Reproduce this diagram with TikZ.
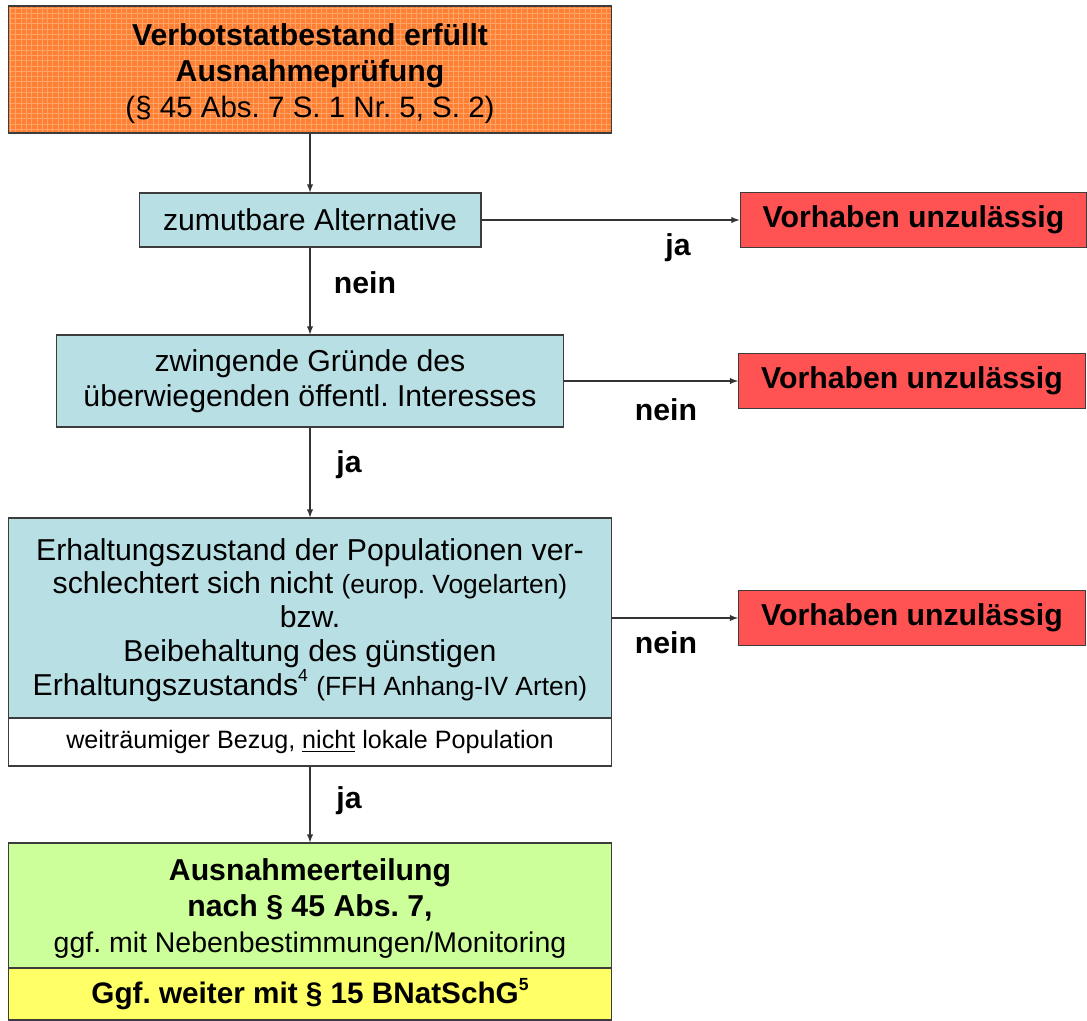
\documentclass[tikz,border=0pt]{standalone}
\usepackage{fontspec}
\setmainfont{Liberation Sans}
\frenchspacing
\usetikzlibrary{arrows,patterns,positioning}
\definecolor{verbotorange}{HTML}{FF7F33}
\definecolor{gridorange}{HTML}{FFA468}
\definecolor{pruefcyan}{HTML}{B8DFE3}
\definecolor{stoprot}{HTML}{FF5353}
\definecolor{okgruen}{HTML}{CCFF99}
\definecolor{weitergelb}{HTML}{FFFF66}
\definecolor{rahmen}{HTML}{3C3C3C}
\newcommand\fntA{\fontsize{17.2}{20.4}\selectfont}
\newcommand\fntB{\fontsize{17.2}{19.2}\selectfont}
\newcommand\fntC{\fontsize{15}{19.2}\selectfont}
\newcommand\hochz[1]{\raisebox{0.45em}{\fontsize{10}{10}\selectfont #1}}

\begin{document}
\begin{tikzpicture}[x=0.02cm, y=-0.02cm,
  box/.style={draw=rahmen, line width=0.6pt, align=center, inner sep=0pt},
  pruef/.style={box, fill=pruefcyan},
  stop/.style={box, fill=stoprot, minimum width=6.94cm, minimum height=1.1cm, font=\fntA\bfseries},
  arr/.style={-latex, draw=black!80, line width=0.6pt},
  antw/.style={font=\fntA\bfseries, inner sep=0pt}]
\useasboundingbox (0,0) rectangle (1087,1020);
% linke Spalte
\node[box, preaction={fill=verbotorange}, pattern=grid, pattern color=gridorange,
      minimum width=12.08cm, minimum height=2.54cm, font=\fntA] (verbot) at (310,69.5)
  {\rule{0pt}{17pt}\textbf{Verbotstatbestand erfüllt}\\\textbf{Ausnahmeprüfung}\\{\fontsize{16.8}{20.4}\selectfont(§ 45 Abs. 7 S. 1 Nr. 5, S. 2)}};
\node[pruef, minimum width=6.84cm, minimum height=1.08cm, font=\fntA] (alt) at (310,220) {zumutbare Alternative};
\node[pruef, minimum width=10.16cm, minimum height=1.84cm, font=\fontsize{17.2}{19.8}\selectfont] (zwing) at (310,381)
  {zwingende Gründe des\\überwiegenden öffentl. Interesses};
\node[pruef, minimum width=12.08cm, minimum height=4cm, font=\fntB] (erhalt) at (310,618)
  {\rule{0pt}{14.5pt}Erhaltungszustand der Populationen ver-\\
   schlechtert sich nicht {\fntC(europ. Vogelarten)}\\
   bzw.\\
   Beibehaltung des günstigen\\
   Erhaltungszustands\hochz{4} {\fntC(FFH Anhang-IV Arten)}};
\node[box, fill=white, minimum width=12.08cm, minimum height=0.96cm, font=\fontsize{14.3}{16}\selectfont] (bezug) at (310,742)
  {weiträumiger Bezug, \underline{nicht} lokale Population};
\node[box, fill=okgruen, minimum width=12.08cm, minimum height=2.5cm, font=\fntA] (erteil) at (310,905.5)
  {\rule{0pt}{16pt}\textbf{Ausnahmeerteilung}\\\textbf{nach § 45 Abs. 7,}\\{\fontsize{16.2}{20.4}\selectfont ggf. mit Nebenbestimmungen/Monitoring}};
\node[box, fill=weitergelb, minimum width=12.08cm, minimum height=1.04cm, font=\fontsize{16.9}{19}\selectfont\bfseries] (weiter) at (310,994)
  {Ggf. weiter mit § 15 BNatSchG\hochz{5}};
% rechte Spalte
\node[stop] (unzul1) at (913.5,220) {Vorhaben unzulässig};
\node[stop] (unzul2) at (912,381) {Vorhaben unzulässig};
\node[stop] (unzul3) at (912,618) {Vorhaben unzulässig};
% Pfeile
\draw[arr] (verbot) -- (alt);
\draw[arr] (alt) -- (zwing);
\draw[arr] (zwing) -- (erhalt);
\draw[arr] (bezug) -- (erteil);
\draw[arr] (alt) -- (unzul1);
\draw[arr] (zwing) -- (unzul2);
\draw[arr] (erhalt) -- (unzul3);
% Antworten
\node[antw] (ja1) at (678,248) {ja};
\node[antw] (nein1) at (365,283) {nein};
\node[antw] (nein2) at (666,410) {nein};
\node[antw] (ja2) at (349,465) {ja};
\node[antw] (nein3) at (666,643) {nein};
\node[antw] (ja3) at (349,801) {ja};
\end{tikzpicture}
\end{document}
